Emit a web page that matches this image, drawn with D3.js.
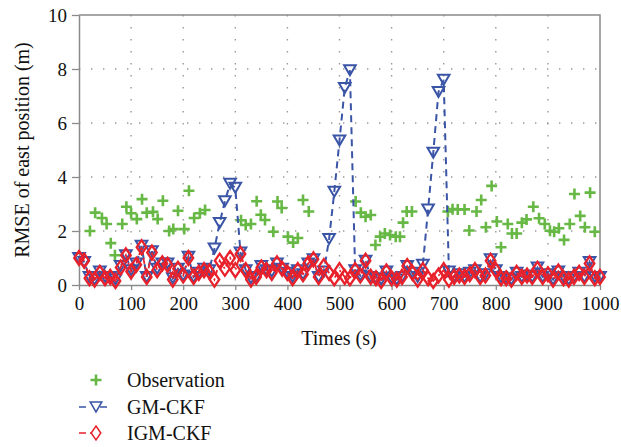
<!DOCTYPE html>
<html>
<head>
<meta charset="utf-8">
<script src="https://cdn.jsdelivr.net/npm/d3@7"></script>
<style>
  body { margin: 0; background: #fff; }
  svg text { font-family: "Liberation Serif", "Times New Roman", serif; }
</style>
</head>
<body>
<svg id="chart" width="621" height="447"></svg>
<script>
// Time grid of the filters (s)
const times = d3.range(0, 1001, 10);

// IGM-CKF RMSE (m), one value every 10 s
const igmValues = [
  1.0, 0.9, 0.25, 0.2, 0.45, 0.25, 0.3, 0.15, 0.65, 1.1,
  0.5, 0.75, 1.4, 0.3, 1.2, 0.55, 0.8, 0.75, 0.2, 0.6,
  0.35, 1.0, 0.3, 0.45, 0.55, 0.5, 0.2, 0.9, 0.6, 1.0,
  0.55, 1.15, 0.55, 0.2, 0.3, 0.65, 0.55, 0.45, 0.8, 0.6,
  0.45, 0.25, 0.55, 0.4, 0.8, 0.95, 0.3, 0.7, 0.45, 0.25,
  0.55, 0.3, 0.25, 0.55, 0.35, 0.9, 0.3, 0.25, 0.15, 0.5,
  0.25, 0.2, 0.3, 0.7, 0.45, 0.2, 0.55, 0.25, 0.15, 0.35,
  0.55, 0.2, 0.3, 0.35, 0.3, 0.4, 0.55, 0.3, 0.35, 0.9,
  0.55, 0.25, 0.25, 0.2, 0.45, 0.3, 0.35, 0.3, 0.6, 0.3,
  0.4, 0.2, 0.5, 0.25, 0.2, 0.3, 0.45, 0.3, 0.8, 0.25,
  0.3
];

// GM-CKF RMSE (m), one value every 10 s
const gmValues = [
  1.0, 0.85, 0.3, 0.2, 0.5, 0.3, 0.3, 0.2, 0.7, 1.1,
  0.55, 0.8, 1.45, 0.3, 1.25, 0.6, 0.8, 0.8, 0.25, 0.6,
  0.35, 1.05, 0.3, 0.45, 0.6, 0.55, 1.35, 2.3, 3.1, 3.75,
  3.6, 1.2, 0.55, 0.25, 0.3, 0.7, 0.55, 0.5, 0.8, 0.6,
  0.45, 0.3, 0.55, 0.4, 0.8, 0.95, 0.3, 0.5, 1.7, 3.45,
  5.35, 7.3, 7.95, 0.55, 0.35, 0.9, 0.3, 0.25, 0.2, 0.5,
  0.25, 0.2, 0.3, 0.7, 0.45, 0.3, 0.75, 2.8, 4.9, 7.15,
  7.6, 0.5, 0.3, 0.4, 0.3, 0.45, 0.55, 0.3, 0.4, 0.95,
  0.55, 0.3, 0.25, 0.2, 0.45, 0.3, 0.35, 0.3, 0.65, 0.3,
  0.4, 0.2, 0.5, 0.3, 0.2, 0.3, 0.45, 0.3, 0.85, 0.3,
  0.3
];

// Observation RMSE (m)
const obsTimes = [
  21, 31, 44, 53, 61, 69, 83, 91, 100, 111, 121, 130, 142, 151, 161, 173, 181, 190, 202, 211,
  221, 232, 242, 311, 320, 330, 341, 349, 357, 373, 381, 389, 401, 411, 420, 430, 441,
  531, 541, 550, 560, 569, 578, 587, 597, 608, 616, 622, 629, 639,
  708, 717, 727, 740, 749, 763, 772, 781, 792, 802, 810, 823, 831, 840, 850, 859, 872, 883,
  894, 904, 912, 921, 931, 942, 951, 962, 971, 981, 990
];
const obsValues = [
  2.0, 2.68, 2.48, 2.26, 1.55, 1.1, 2.26, 2.9, 2.66, 2.44, 3.18, 2.68, 2.71, 2.44, 3.12, 2.0, 2.07, 2.75, 2.07, 3.49,
  2.48, 2.66, 2.78, 2.4, 2.22, 2.26, 3.1, 2.6, 2.41, 1.97, 3.09, 2.85, 1.79, 1.57, 1.74, 3.15, 2.72,
  3.09, 2.68, 2.53, 2.59, 1.48, 1.79, 1.91, 1.85, 1.79, 1.79, 2.31, 2.72, 2.72,
  2.72, 2.81, 2.8, 2.8, 2.02, 2.72, 3.15, 2.14, 3.67, 2.35, 1.4, 2.26, 1.91, 1.91, 2.31, 2.43, 2.9, 2.47,
  2.26, 2.01, 1.97, 2.1, 1.67, 2.26, 3.37, 2.56, 2.14, 3.42, 1.97
];

const xTicks = [0, 100, 200, 300, 400, 500, 600, 700, 800, 900, 1000];
const yTicks = [0, 2, 4, 6, 8, 10];
const seriesNames = ["Observation", "GM-CKF", "IGM-CKF"];

const green = "#67b845";
const blue = "#3a54a6";
const red = "#e8212b";

const svg = d3.select("#chart");
const margin = { top: 15, right: 21, bottom: 162, left: 79 };
const width = +svg.attr("width");
const height = +svg.attr("height");
const innerWidth = width - margin.left - margin.right;
const innerHeight = height - margin.top - margin.bottom;

const g = svg.append("g").attr("transform", `translate(${margin.left},${margin.top})`);

const x = d3.scaleLinear().domain([0, 1000]).range([0, innerWidth]);
const y = d3.scaleLinear().domain([0, 10]).range([innerHeight, 0]);

// dotted grid
g.append("g")
  .selectAll("line")
  .data(xTicks.slice(1, -1))
  .join("line")
  .attr("x1", d => x(d)).attr("x2", d => x(d))
  .attr("y1", 0).attr("y2", innerHeight)
  .attr("stroke", "#999").attr("stroke-width", 1.4)
  .attr("stroke-dasharray", "1.4,10.6");
g.append("g")
  .selectAll("line")
  .data(yTicks.slice(1, -1))
  .join("line")
  .attr("x1", 0).attr("x2", innerWidth)
  .attr("y1", d => y(d)).attr("y2", d => y(d))
  .attr("stroke", "#999").attr("stroke-width", 1.4)
  .attr("stroke-dasharray", "1.4,10.6");

// frame
g.append("path")
  .attr("d", `M0,0H${innerWidth}V${innerHeight}`)
  .attr("fill", "none").attr("stroke", "#8a8a8a").attr("stroke-width", 1.5);

// axes
const xAxis = g.append("g")
  .attr("transform", `translate(0,${innerHeight})`)
  .call(d3.axisBottom(x).tickValues(xTicks).tickSize(5).tickSizeOuter(0).tickPadding(7).tickFormat(d3.format("d")));
const yAxis = g.append("g")
  .call(d3.axisLeft(y).tickValues(yTicks).tickSize(7).tickSizeOuter(0).tickPadding(5));
[xAxis, yAxis].forEach(a => {
  a.attr("font-family", null);
  a.select(".domain").attr("stroke", "#8a8a8a").attr("stroke-width", 1.5);
  a.selectAll(".tick line").attr("stroke", "#8a8a8a").attr("stroke-width", 1.3);
  a.selectAll(".tick text").attr("fill", "#111").style("font-size", "19px");
});

// axis titles
g.append("text")
  .attr("x", 260).attr("y", 331 - margin.top + 14)
  .attr("text-anchor", "middle").style("font-size", "20px").attr("fill", "#111")
  .text("Times (s)");
g.append("text")
  .attr("transform", "rotate(-90)")
  .attr("x", -(150 - margin.top)).attr("y", 22 - margin.left + 7)
  .attr("text-anchor", "middle").style("font-size", "20px").attr("fill", "#111")
  .text("RMSE of east position (m)");

// marker shapes
const plusPath = "M-5.5,0H5.5M0,-5.5V5.5";
const triPath = "M-5.8,-5H5.8L0,5Z";
const diaPath = "M0,-7L4.8,0L0,7L-4.8,0Z";

const gmData = times.map((t, i) => ({ t: t, v: gmValues[i] }));
const igmData = times.map((t, i) => ({ t: t, v: igmValues[i] }));
const obsData = obsTimes.map((t, i) => ({ t: t, v: obsValues[i] }));

// observation
g.append("g").selectAll("path")
  .data(obsData)
  .join("path")
  .attr("transform", d => `translate(${x(d.t)},${y(d.v)})`)
  .attr("d", plusPath)
  .attr("stroke", green).attr("stroke-width", 2.6).attr("fill", "none");

const line = d3.line().x(d => x(d.t)).y(d => y(d.v));

// GM-CKF
g.append("path").datum(gmData)
  .attr("d", line).attr("fill", "none")
  .attr("stroke", blue).attr("stroke-width", 2).attr("stroke-dasharray", "7,5");
g.append("g").selectAll("path")
  .data(gmData)
  .join("path")
  .attr("transform", d => `translate(${x(d.t)},${y(d.v)})`)
  .attr("d", triPath)
  .attr("stroke", blue).attr("stroke-width", 2).attr("fill", "none");

// IGM-CKF
g.append("path").datum(igmData)
  .attr("d", line).attr("fill", "none")
  .attr("stroke", red).attr("stroke-width", 1.8).attr("stroke-dasharray", "6,3,2,3");
g.append("g").selectAll("path")
  .data(igmData)
  .join("path")
  .attr("transform", d => `translate(${x(d.t)},${y(d.v)})`)
  .attr("d", diaPath)
  .attr("stroke", red).attr("stroke-width", 2.3).attr("fill", "none");

// legend
const legend = svg.append("g");
const legendY = [380, 407, 433];
legend.append("path")
  .attr("transform", `translate(96,${legendY[0]})`)
  .attr("d", plusPath).attr("stroke", green).attr("stroke-width", 2.6);
legend.append("line")
  .attr("x1", 79).attr("x2", 114).attr("y1", legendY[1]).attr("y2", legendY[1])
  .attr("stroke", blue).attr("stroke-width", 1.5).attr("stroke-dasharray", "7,14");
legend.append("path")
  .attr("transform", `translate(96,${legendY[1]})`)
  .attr("d", triPath).attr("stroke", blue).attr("stroke-width", 1.5).attr("fill", "#fff");
legend.append("line")
  .attr("x1", 79).attr("x2", 114).attr("y1", legendY[2]).attr("y2", legendY[2])
  .attr("stroke", red).attr("stroke-width", 1.5).attr("stroke-dasharray", "7,4,2,30");
legend.append("path")
  .attr("transform", `translate(96,${legendY[2]})`)
  .attr("d", diaPath).attr("stroke", red).attr("stroke-width", 1.5).attr("fill", "#fff");
legend.selectAll("text")
  .data(seriesNames)
  .join("text")
  .attr("x", 127).attr("y", (d, i) => legendY[i] + 7)
  .style("font-size", "20px").attr("fill", "#111")
  .text(d => d);
</script>
</body>
</html>
